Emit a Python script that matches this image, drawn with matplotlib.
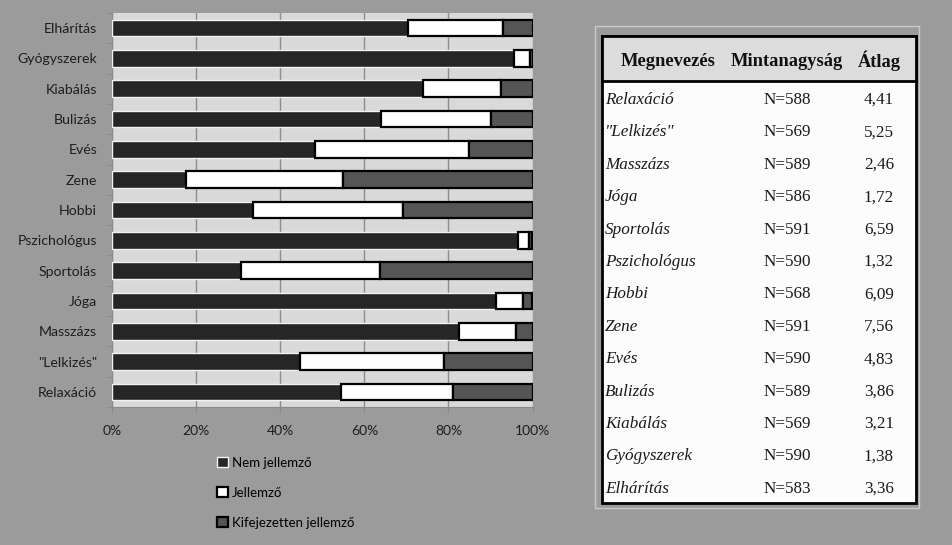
import matplotlib.pyplot as plt
from matplotlib.patches import Rectangle
from matplotlib.ticker import FuncFormatter, FixedLocator

# categories (bottom to top in the chart, top to bottom in the table)
labels = ["Relaxáció", '"Lelkizés"', "Masszázs", "Jóga", "Sportolás", "Pszichológus",
          "Hobbi", "Zene", "Evés", "Bulizás", "Kiabálás", "Gyógyszerek", "Elhárítás"]

# shares in percent
nem = [54.4, 44.6, 82.5, 91.4, 30.6, 96.6, 33.6, 17.5, 48.3, 64.0, 74.0, 95.6, 70.3]
jell = [26.6, 34.4, 13.5, 6.3, 33.0, 2.5, 35.6, 37.4, 36.7, 26.2, 18.4, 3.9, 22.6]
kif = [19.0, 21.0, 4.0, 2.3, 36.4, 0.9, 30.8, 45.1, 15.0, 9.8, 7.6, 0.5, 7.1]

series_names = ["Nem jellemző", "Jellemző", "Kifejezetten jellemző"]

# table values
ns = [588, 569, 589, 586, 591, 590, 568, 591, 590, 589, 569, 590, 583]
means = [4.41, 5.25, 2.46, 1.72, 6.59, 1.32, 6.09, 7.56, 4.83, 3.86, 3.21, 1.38, 3.36]
headers = ["Megnevezés", "Mintanagyság", "Átlag"]

W, H = 952, 545
bg = "#9b9b9b"
fig = plt.figure(figsize=(W / 100, H / 100), dpi=100, facecolor=bg)

# ---- table drawn in pixel coordinates ----
tab = fig.add_axes([0, 0, 1, 1])
tab.set_xlim(0, W)
tab.set_ylim(H, 0)
tab.axis("off")

tab.add_patch(Rectangle((595, 26), 324, 482, fill=False, ec="#c9c9c9", lw=1))
tab.add_patch(Rectangle((602, 36), 314, 467, fc="#fcfcfc", ec="black", lw=2))
tab.add_patch(Rectangle((602, 36), 314, 45, fc="#dcdcdc", ec="black", lw=2))

serif = "Liberation Serif"
col_x = [668, 787, 879]
for x, h in zip(col_x, headers):
    tab.text(x, 61, h, family=serif, weight="bold", fontsize=13.3,
             ha="center", va="center", color="#111111")

for i, (name, n, m) in enumerate(zip(labels, ns, means)):
    y = 100 + i * 32.4
    tab.text(605, y, name, family=serif, style="italic", fontsize=12.3,
             ha="left", va="center", color="#1a1a1a")
    tab.text(col_x[1], y, "N=%d" % n, family=serif, fontsize=12.3,
             ha="center", va="center", color="#1a1a1a")
    tab.text(col_x[2], y, ("%.2f" % m).replace(".", ","), family=serif, fontsize=12.3,
             ha="center", va="center", color="#1a1a1a")

# ---- stacked bar chart ----
sans = "Lato"
ax = fig.add_axes([112.3 / W, 1 - 407 / H, 420.2 / W, 394 / H])
ax.set_facecolor("#d9d9d9")

pos = range(len(labels))
h = 0.55
b1 = ax.barh(pos, nem, height=h, color="#262626", edgecolor="#f2f2f2", lw=1,
             label=series_names[0], zorder=3)
left2 = [a for a in nem]
b2 = ax.barh(pos, jell, left=left2, height=h, color="white", edgecolor="black", lw=1.6,
             label=series_names[1], zorder=3)
left3 = [a + b for a, b in zip(nem, jell)]
b3 = ax.barh(pos, kif, left=left3, height=h, color="#555555", edgecolor="black", lw=1.6,
             label=series_names[2], zorder=3)

ax.set_xlim(0, 100)
ax.set_ylim(-0.5, len(labels) - 0.5)
ax.set_xticks([0, 20, 40, 60, 80, 100])
ax.xaxis.set_major_formatter(FuncFormatter(lambda v, p: "%d%%" % v))
ax.set_yticks(list(pos))
ax.set_yticklabels(labels)
ax.yaxis.set_minor_locator(FixedLocator([i - 0.5 for i in range(len(labels) + 1)]))

ax.grid(axis="x", color="#8c8c8c", lw=1, zorder=0)
ax.set_axisbelow(True)
for s in ["top", "right"]:
    ax.spines[s].set_visible(False)
for s in ["left", "bottom"]:
    ax.spines[s].set_color("#8a8a8a")

ax.tick_params(axis="y", which="major", length=0, pad=11, labelsize=10.2,
               labelcolor="#1e1e1e")
ax.tick_params(axis="y", which="minor", length=4, color="#8a8a8a")
ax.tick_params(axis="x", length=4, color="#8a8a8a", pad=9, labelsize=10,
               labelcolor="#1e1e1e")
for t in ax.get_xticklabels() + ax.get_yticklabels():
    t.set_family(sans)

fig.legend(handles=[b1, b2, b3], loc="upper left",
           bbox_to_anchor=(217 / W, 1 - 457 / H), frameon=False,
           prop={"family": sans, "size": 9.5}, handlelength=0.8, handleheight=0.8,
           handletextpad=0.3, labelspacing=1.35, borderpad=0, borderaxespad=0)

fig.savefig("out.png", dpi=100, facecolor=bg)
